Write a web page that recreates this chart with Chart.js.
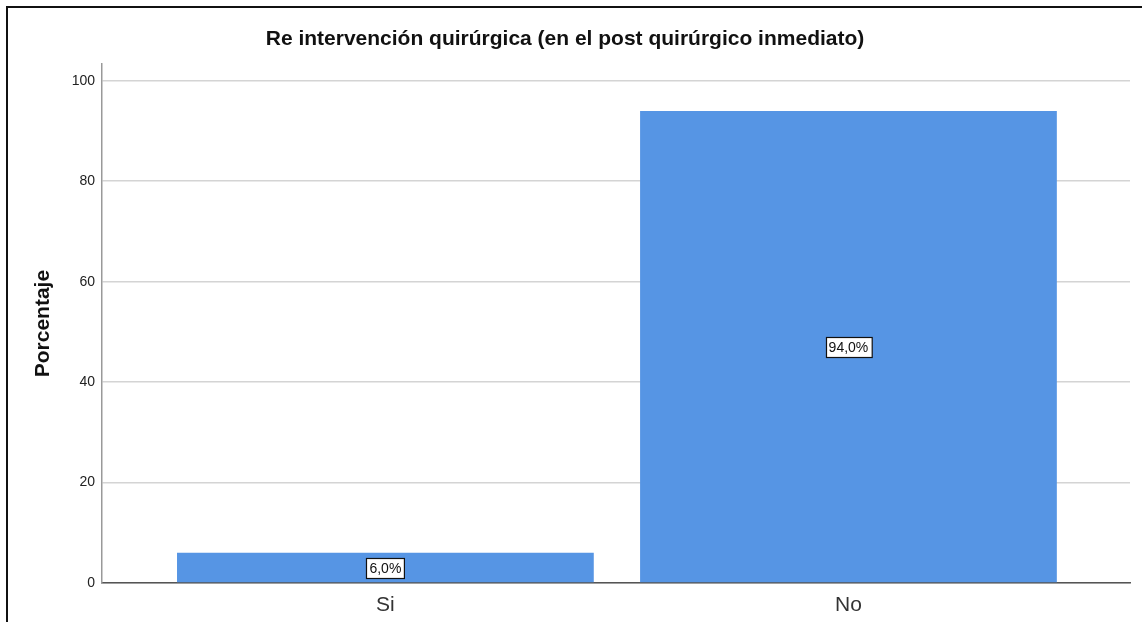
<!DOCTYPE html>
<html>
<head>
<meta charset="utf-8">
<script src="https://cdn.jsdelivr.net/npm/chart.js@4/dist/chart.umd.min.js"></script>
<style>
  html, body { margin: 0; padding: 0; background: #fff; overflow: hidden; }
  #wrap { position: relative; width: 1142px; height: 622px; }
  #frame { position: absolute; left: 6px; top: 6px; width: 1200px; height: 700px;
           border-left: 2px solid #111; border-top: 2px solid #111; pointer-events: none; }
</style>
</head>
<body>
<div id="wrap">
  <canvas id="out" width="1142" height="622"></canvas>
  <div id="frame"></div>
</div>
<script>
// datos
const categories = ["Si", "No"];
const percentages = [6.0, 94.0];
const valueLabels = ["6,0%", "94,0%"];
const yTicks = [0, 20, 40, 60, 80, 100];

const FONT = "'Liberation Sans', Arial, sans-serif";

// posiciones de categoria en el eje x (1, 2, ...)
const points = categories.map((c, i) => ({ x: i + 1, y: percentages[i] }));

// etiquetas con recuadro blanco en el centro de cada barra
const boxLabels = {
  id: "boxLabels",
  afterDatasetsDraw(chart) {
    const ctx = chart.ctx;
    const meta = chart.getDatasetMeta(0);
    const yScale = chart.scales.y;
    ctx.save();
    ctx.font = "14px " + FONT;
    ctx.textAlign = "center";
    ctx.textBaseline = "middle";
    meta.data.forEach((bar, i) => {
      const txt = valueLabels[i];
      const cy = yScale.getPixelForValue(percentages[i] / 2);
      const w = ctx.measureText(txt).width + 6;
      const h = 20;
      const x0 = Math.round(bar.x - w / 2) + 0.5;
      const y0 = Math.round(cy - h / 2) + 0.5;
      ctx.fillStyle = "#fff";
      ctx.fillRect(x0, y0, w, h);
      ctx.strokeStyle = "#111";
      ctx.lineWidth = 1.2;
      ctx.strokeRect(x0, y0, w, h);
      ctx.fillStyle = "#111";
      ctx.fillText(txt, bar.x, cy + 1);
    });
    ctx.restore();
  }
};

const canvasCtx = document.getElementById("out").getContext("2d");

new Chart(canvasCtx, {
  type: "bar",
  data: {
    datasets: [{
      data: points,
      backgroundColor: "rgb(86, 149, 228)",
      borderWidth: 0,
      categoryPercentage: 0.9,
      barPercentage: 1.0
    }]
  },
  options: {
    responsive: false,
    animation: false,
    layout: { padding: { left: 0, right: 12, top: 0, bottom: 0 } },
    plugins: {
      legend: { display: false },
      tooltip: { enabled: false },
      title: {
        display: true,
        text: "Re intervención quirúrgica (en el post quirúrgico inmediato)",
        color: "#111",
        font: { family: FONT, size: 21, weight: "bold" },
        padding: { top: 27, bottom: 12 }
      }
    },
    scales: {
      x: {
        type: "linear",
        offset: false,
        min: 0.388,
        max: 2.608,
        afterBuildTicks: (scale) => { scale.ticks = categories.map((c, i) => ({ value: i + 1 })); },
        afterFit: (scale) => { scale.height = 39; },
        grid: { display: false, drawTicks: false, offset: false },
        border: { display: true, color: "#555", width: 1.5 },
        ticks: {
          padding: 10,
          color: "#333",
          font: { family: FONT, size: 21 },
          callback: (v) => categories[Math.round(v) - 1] || ""
        }
      },
      y: {
        min: 0,
        max: 103.3,
        afterBuildTicks: (scale) => { scale.ticks = yTicks.map(v => ({ value: v })); },
        afterFit: (scale) => { scale.width = 102; },
        grid: { color: "#d4d4d4", lineWidth: 1.5, drawTicks: false },
        border: { display: true, color: "#999", width: 1.5 },
        ticks: {
          padding: 7,
          color: "#222",
          font: { family: FONT, size: 14 }
        },
        title: {
          display: true,
          text: "Porcentaje",
          color: "#111",
          font: { family: FONT, size: 21, weight: "bold" },
          padding: { top: 31, bottom: 0 }
        }
      }
    }
  },
  plugins: [boxLabels]
});
</script>
</body>
</html>
